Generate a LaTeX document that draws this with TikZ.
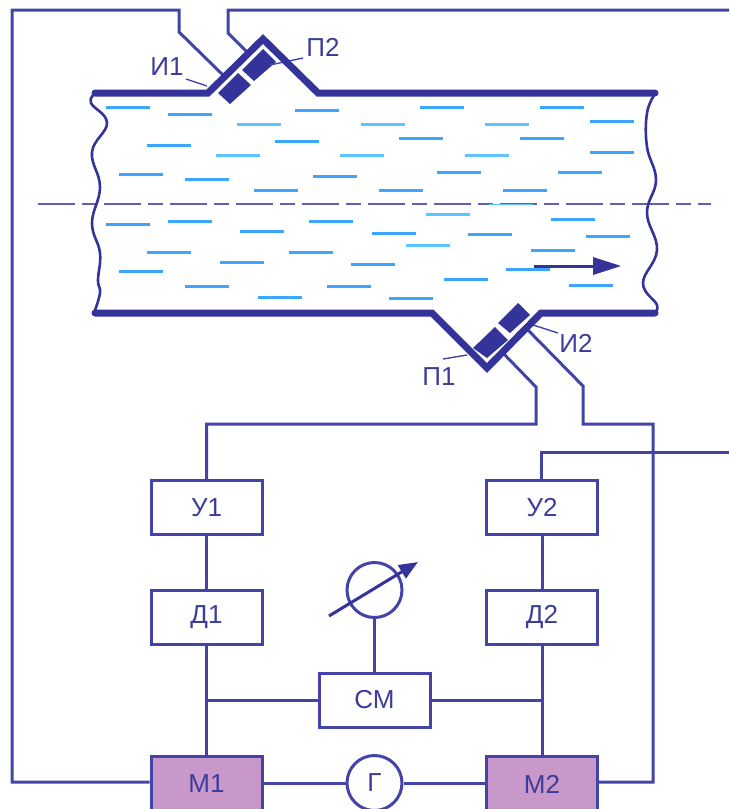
\documentclass[tikz,border=0pt]{standalone}
\usepackage{fontspec}
\setmainfont{Liberation Sans}
\usetikzlibrary{arrows.meta}
\definecolor{navy}{HTML}{333399}
\definecolor{wire}{HTML}{4444A8}
\definecolor{txt}{HTML}{3C3C9C}
\definecolor{wa}{HTML}{3AA6FF}
\definecolor{wb}{HTML}{5CC4FF}
\definecolor{mod}{HTML}{C898CA}
\tikzset{
  x=1pt,y=-1pt,
  pipe/.style={draw=navy,line width=7pt,line join=miter,line cap=round},
  edge/.style={draw=navy,line width=2.6pt,line join=round},
  wirel/.style={draw=wire,line width=3pt,line join=miter},
  lead/.style={draw=wire,line width=1.4pt},
  blk/.style={draw=wire,line width=3pt,fill=white,minimum width=111pt,minimum height=54pt,inner sep=0pt,text=txt,font=\fontsize{26}{30}\selectfont},
  modb/.style={blk,fill=mod,minimum height=56pt},
  circ/.style={circle,draw=wire,line width=3pt,fill=white,minimum size=55pt,inner sep=0pt,text=txt,font=\fontsize{26}{30}\selectfont},
  lab/.style={text=txt,inner sep=0pt,font=\fontsize{26}{30}\selectfont},
  wd/.style={draw=wa,line width=3pt},
  we/.style={draw=wb,line width=3pt},
  sensor/.style={fill=navy,draw=none}
}
\newcommand{\wa}[2]{\draw[wd] (#1,#2) -- ++(44,0);}
\newcommand{\wb}[2]{\draw[we] (#1,#2) -- ++(44,0);}
\begin{document}
\begin{tikzpicture}
\useasboundingbox (0,0) rectangle (729,809);
\clip (0,0) rectangle (729,809);
% water
\wa{106}{107}\wa{168}{114}\wa{295}{110}\wb{237}{124}\wa{147}{145}\wa{275}{141}\wb{216}{155}\wb{340}{155}
\wa{119}{174}\wa{185}{179}\wa{313}{176}\wa{254}{190}\wa{168}{221}\wa{106}{224}\wa{309}{221}\wa{240}{231}
\wa{147}{252}\wa{289}{252}\wa{220}{262}\wa{351}{264}\wa{119}{271}\wa{185}{286}\wa{327}{286}\wa{258}{297}
\wa{420}{107}\wa{540}{107}\wa{590}{121}\wb{361}{124}\wb{485}{124}\wa{399}{138}\wa{520}{138}\wa{590}{152}
\wb{465}{155}\wa{437}{172}\wa{558}{172}\wa{379}{190}\wa{503}{190}\wb{426}{214}\wa{551}{219}
\wa{372}{233}\wa{468}{234}\wa{586}{236}\wb{406}{245}\wa{531}{250}\wa{506}{269}\wa{444}{279}\wa{569}{285}\wa{389}{298}
% centre line
\coordinate (cl) at (38,204);
\coordinate (cr) at (711,204);
\draw[draw=wire!85!white,line width=2.4pt,dash pattern=on 37pt off 7pt on 15pt off 7pt] (cl) -- (cr);
\draw[wb] (489,204) -- ++(44,0);
% wavy pipe edges
\draw[edge] plot[smooth,tension=0.7] coordinates {(95,94)(91,103)(107,123)(92,152)(100,187)(92,223)(100,253)(98,280)(100,293)(94,313)};
\draw[edge] plot[smooth,tension=0.7] coordinates {(655,94)(647,113)(647,147)(656,180)(647,213)(657,250)(643,283)(657,305)(654,313)};
% cabling to the sensors, under the pipe
\coordinate (lw1) at (12,782);
\coordinate (lw2) at (12,10);
\coordinate (lw3) at (179,10);
\coordinate (lw4) at (179,32);
\coordinate (lw5) at (226,78);
\coordinate (rw1) at (729,10);
\coordinate (rw2) at (228,10);
\coordinate (rw3) at (228,33);
\coordinate (rw4) at (250,55);
\coordinate (s1) at (502,352);
\coordinate (s1b) at (536,387);
\coordinate (s1c) at (536,424);
\coordinate (s2) at (526,328);
\coordinate (s2b) at (583,386);
\coordinate (s2c) at (583,424);
\coordinate (s2d) at (653,424);
\coordinate (s2e) at (653,782);
% pipe
\coordinate (tl) at (95,93);
\coordinate (t1) at (208,93);
\coordinate (t2) at (263,39);
\coordinate (t3) at (318,93);
\coordinate (tr) at (655,93);
\coordinate (bl) at (95,313);
\coordinate (b1) at (432,313);
\coordinate (b2) at (487,368);
\coordinate (b3) at (541,313);
\coordinate (br) at (655,313);
% sensors
\fill[sensor] (218,93) -- (238,73) -- (251,85) -- (230,104) -- cycle;
\fill[sensor] (242,70) -- (263,49) -- (276,62) -- (254,81) -- cycle;
\fill[sensor] (473,348) -- (495,327) -- (508,340) -- (487,358) -- cycle;
\fill[sensor] (498,323) -- (518,303) -- (530,315) -- (510,333) -- cycle;
% labels and leaders
\node[lab] (i1) at (167,67) {И1};
\node[lab] (p2) at (323,47) {П2};
\node[lab] (p1) at (439,377) {П1};
\node[lab] (i2) at (576,343) {И2};
\coordinate (i1a) at (186,79); \coordinate (i1b) at (207,86);
\coordinate (p2a) at (303,58); \coordinate (p2b) at (270,65);
\coordinate (p1a) at (443,359); \coordinate (p1b) at (467,355);
\coordinate (i2a) at (558,333); \coordinate (i2b) at (533,325);
\draw[lead] (i1a) -- (i1b);
\draw[lead] (p2a) -- (p2b);
\draw[lead] (p1a) -- (p1b);
\draw[lead] (i2a) -- (i2b);
% flow arrow
\coordinate (fa) at (534,266);
\coordinate (fb) at (594,266);
\draw[navy,line width=3pt] (fa) -- (fb);
\fill[navy] (593,257) -- (621,266) -- (593,275) -- cycle;
% blocks
\node[blk] (u1) at (206.5,507.5) {У1};
\node[blk] (d1) at (206.5,617.5) {Д1};
\node[blk] (u2) at (542,507.5) {У2};
\node[blk] (d2) at (542,617.5) {Д2};
\node[blk] (cm) at (374.5,700) {СМ};
\node[modb] (m1) at (206.5,784) {М1};
\node[modb] (m2) at (542,784) {М2};
\node[circ] (g) at (374.5,783) {Г};
\node[circ] (meter) at (374.5,590) {};
% meter arrow
\coordinate (ma) at (329,616);
\coordinate (mb) at (418,562);
\draw[navy,line width=3pt,-{Triangle[length=19pt,width=15pt]}] (ma) -- (mb);
% wires
\draw[wirel] (d1) -- (u1);
\draw[wirel] (d2) -- (u2);
\draw[wirel] (d1) -- (m1);
\draw[wirel] (d2) -- (m2);
\draw[wirel] (meter) -- (cm);
\coordinate (jl) at (206.5,700);
\coordinate (jr) at (542,700);
\draw[wirel] (jl) -- (cm);
\draw[wirel] (cm) -- (jr);
\draw[wirel] (m1.east |- g) -- (g);
\draw[wirel] (g) -- (m2.west |- g);
\draw[wirel] (s1) -- (s1b) -- (s1c) -| (u1.north);
\draw[wirel] (s2) -- (s2b) -- (s2c) -- (s2d) -- (s2e) -- (m2.east |- s2e);
\coordinate (u2c) at (541.5,452);
\coordinate (u2d) at (729,452);
\draw[wirel] (u2.north -| u2c) -- (u2c) -- (u2d);
\draw[wirel] (m1.west |- lw1) -- (lw1) -- (lw2) -- (lw3) -- (lw4) -- (lw5);
\draw[wirel] (rw1) -- (rw2) -- (rw3) -- (rw4);
% pipe on top of the cabling
\draw[pipe] (tl) -- (t1) -- (t2) -- (t3) -- (tr);
\draw[pipe] (bl) -- (b1) -- (b2) -- (b3) -- (br);
\end{tikzpicture}
\end{document}
